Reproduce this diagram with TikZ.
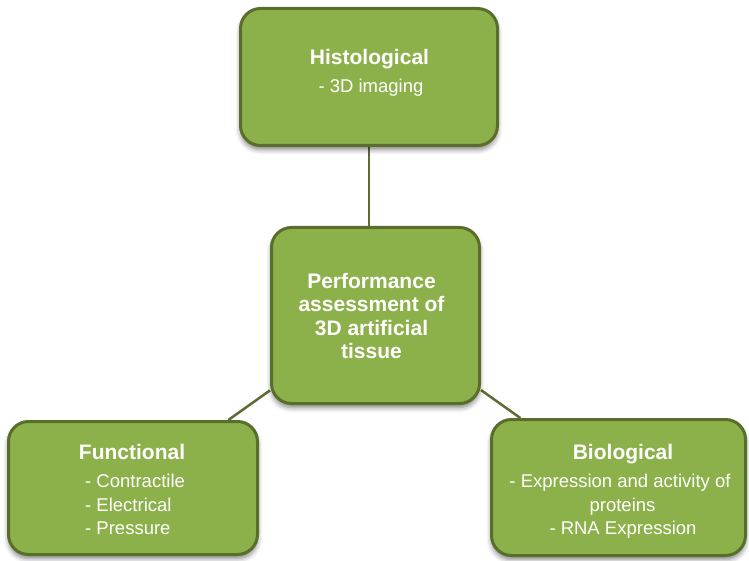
\documentclass[tikz,border=0pt]{standalone}
\usepackage{fontspec}
\setmainfont{Liberation Sans}
\usetikzlibrary{shadows.blur,backgrounds}
\definecolor{boxfill}{HTML}{8DB14A}
\definecolor{boxedge}{HTML}{5A6E2C}
\definecolor{linecol}{HTML}{5C6D33}
\begin{document}
\begin{tikzpicture}[x=1pt,y=-1pt,
  box/.style={draw=boxedge, line width=3pt, fill=boxfill, rounded corners=20pt,
    blur shadow={shadow xshift=0pt, shadow yshift=-4pt, shadow blur radius=5pt, shadow opacity=50},
    inner sep=0pt},
  ttl/.style={text=white, inner sep=0pt, anchor=base, font=\bfseries\fontsize{21}{24}\selectfont},
  bdy/.style={text=white, inner sep=0pt, anchor=base, font=\fontsize{18.5}{24}\selectfont},
  conn/.style={draw=linecol, line width=2.5pt}]
\useasboundingbox (0,0) rectangle (749,561);
% boxes
\node[box, minimum width=257pt, minimum height=137pt] (hist) at (369,77) {};
\node[box, minimum width=208pt, minimum height=176pt] (perf) at (375.5,315.5) {};
\node[box, minimum width=249pt, minimum height=133pt] (func) at (133,488) {};
\node[box, minimum width=254pt, minimum height=136pt] (bio) at (618.5,487.5) {};
% connectors
\begin{scope}[on background layer]
\draw[conn] (hist.south) -- (hist.south |- perf.north);
\draw[conn] (perf) -- (func);
\draw[conn] (perf) -- (bio);
\end{scope}
% Histological
\node[ttl] (histT) at (369.5,65) {Histological};
\node[bdy] (histA) at (371,93) {- 3D imaging};
% Center
\node[ttl] (perf1) at (371.5,288) {Performance};
\node[ttl] (perf2) at (371.5,311.5) {assessment of};
\node[ttl] (perf3) at (371.5,335) {3D artificial};
\node[ttl] (perf4) at (371.5,358.5) {tissue};
% Functional
\node[ttl] (funcT) at (132,459) {Functional};
\node[bdy, anchor=base west] (funcA) at (85,487) {- Contractile};
\node[bdy, anchor=base west] (funcB) at (85,511) {- Electrical};
\node[bdy, anchor=base west] (funcC) at (85,534) {- Pressure};
% Biological
\node[ttl] (bioT) at (623,459) {Biological};
\node[bdy] (bioA) at (620,487) {- Expression and activity of};
\node[bdy] (bioB) at (622.5,511) {proteins};
\node[bdy] (bioC) at (623,534) {- RNA Expression};
\end{tikzpicture}
\end{document}
